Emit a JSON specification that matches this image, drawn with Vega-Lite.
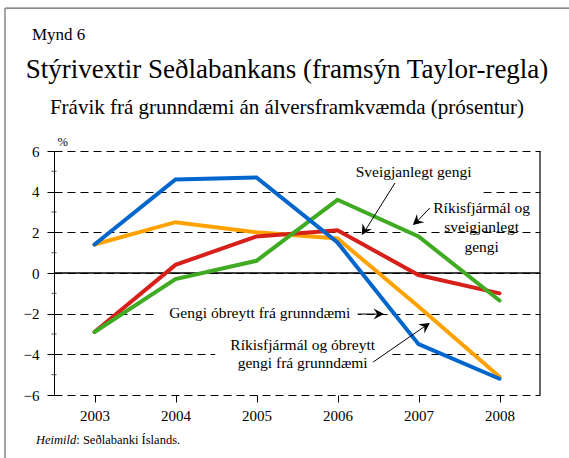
{
  "$schema": "https://vega.github.io/schema/vega-lite/v6.json",
  "width": 486,
  "height": 244,
  "autosize": "none",
  "padding": {"left": 54, "top": 151, "right": 29, "bottom": 63},
  "background": "white",
  "config": {
    "font": "Liberation Serif",
    "view": {"stroke": null},
    "text": {"font": "Liberation Serif", "fontWeight": "normal", "fill": "black"},
    "axis": {"labelFont": "Liberation Serif", "titleFont": "Liberation Serif", "labelColor": "black", "titleColor": "black", "domainColor": "black", "tickColor": "black"}
  },
  "title": {
    "text": "Stýrivextir Seðlabankans (framsýn Taylor-regla)",
    "subtitle": "Frávik frá grunndæmi án álversframkvæmda (prósentur)",
    "font": "Liberation Serif",
    "subtitleFont": "Liberation Serif",
    "fontSize": 27,
    "subtitleFontSize": 21,
    "fontWeight": "normal",
    "subtitleFontWeight": "normal",
    "color": "black",
    "subtitleColor": "black",
    "anchor": "middle",
    "frame": "group",
    "dx": -10,
    "offset": -112,
    "subtitlePadding": 13
  },
  "datasets": {
    "rates": [
      {"year": 2003, "series": "Ríkisfjármál og óbreytt gengi frá grunndæmi", "value": 1.4},
      {"year": 2004, "series": "Ríkisfjármál og óbreytt gengi frá grunndæmi", "value": 2.5},
      {"year": 2005, "series": "Ríkisfjármál og óbreytt gengi frá grunndæmi", "value": 2.0},
      {"year": 2006, "series": "Ríkisfjármál og óbreytt gengi frá grunndæmi", "value": 1.7},
      {"year": 2007, "series": "Ríkisfjármál og óbreytt gengi frá grunndæmi", "value": -1.65},
      {"year": 2008, "series": "Ríkisfjármál og óbreytt gengi frá grunndæmi", "value": -5.1},
      {"year": 2003, "series": "Sveigjanlegt gengi", "value": -2.9},
      {"year": 2004, "series": "Sveigjanlegt gengi", "value": 0.4},
      {"year": 2005, "series": "Sveigjanlegt gengi", "value": 1.8},
      {"year": 2006, "series": "Sveigjanlegt gengi", "value": 2.1},
      {"year": 2007, "series": "Sveigjanlegt gengi", "value": -0.1},
      {"year": 2008, "series": "Sveigjanlegt gengi", "value": -1.0},
      {"year": 2003, "series": "Ríkisfjármál og sveigjanlegt gengi", "value": -2.9},
      {"year": 2004, "series": "Ríkisfjármál og sveigjanlegt gengi", "value": -0.3},
      {"year": 2005, "series": "Ríkisfjármál og sveigjanlegt gengi", "value": 0.6},
      {"year": 2006, "series": "Ríkisfjármál og sveigjanlegt gengi", "value": 3.6},
      {"year": 2007, "series": "Ríkisfjármál og sveigjanlegt gengi", "value": 1.8},
      {"year": 2008, "series": "Ríkisfjármál og sveigjanlegt gengi", "value": -1.35},
      {"year": 2003, "series": "Gengi óbreytt frá grunndæmi", "value": 1.4},
      {"year": 2004, "series": "Gengi óbreytt frá grunndæmi", "value": 4.6},
      {"year": 2005, "series": "Gengi óbreytt frá grunndæmi", "value": 4.7},
      {"year": 2006, "series": "Gengi óbreytt frá grunndæmi", "value": 1.5},
      {"year": 2007, "series": "Gengi óbreytt frá grunndæmi", "value": -3.5},
      {"year": 2008, "series": "Gengi óbreytt frá grunndæmi", "value": -5.2}
    ],
    "minor": [{"v": -5}, {"v": -3}, {"v": -1}, {"v": 1}, {"v": 3}, {"v": 5}],
    "one": [{"n": 1}]
  },
  "data": {"name": "one"},
  "layer": [
    {"mark": {"type": "rect", "fill": "white", "clip": false}, "encoding": {"x": {"datum": 2005.99}, "x2": {"datum": 2007.8}, "y": {"datum": 5.6}, "y2": {"datum": 3.85}}},
    {"mark": {"type": "rect", "fill": "white", "clip": false}, "encoding": {"x": {"datum": 2003.75}, "x2": {"datum": 2006.25}, "y": {"datum": -1.55}, "y2": {"datum": -2.4}}},
    {"mark": {"type": "rect", "fill": "white", "clip": false}, "encoding": {"x": {"datum": 2004.49}, "x2": {"datum": 2006.67}, "y": {"datum": -3.2}, "y2": {"datum": -4.8}}},
    {"mark": {"type": "rule", "stroke": "black", "strokeWidth": 1.3, "clip": false}, "encoding": {"y": {"datum": 0}}},
    {"mark": {"type": "rule", "stroke": "black", "strokeWidth": 1.2, "clip": false}, "encoding": {"x": {"datum": 2008.5}, "y": {"datum": 6}, "y2": {"datum": -6}}},
    {"data": {"name": "minor"}, "mark": {"type": "tick", "orient": "horizontal", "color": "black", "size": 5, "thickness": 1, "clip": false}, "encoding": {"x": {"datum": 2002.5}, "y": {"field": "v", "type": "quantitative"}}},
    {
      "data": {"name": "rates"},
      "mark": {"type": "line", "strokeWidth": 4, "strokeCap": "round", "strokeJoin": "miter", "clip": false},
      "encoding": {
        "x": {
          "field": "year", "type": "quantitative",
          "scale": {"domain": [2002.5, 2008.5], "nice": false, "zero": false},
          "axis": {"values": [2003, 2004, 2005, 2006, 2007, 2008], "format": "d", "title": null, "grid": false, "domain": false, "tickSize": 7, "tickWidth": 1, "tickColor": "black", "labelFont": "Liberation Serif", "labelColor": "black", "labelFontSize": 15, "labelPadding": 6}
        },
        "y": {
          "field": "value", "type": "quantitative",
          "scale": {"domain": [-6, 6], "nice": false, "zero": false},
          "axis": {"values": [-6, -4, -2, 0, 2, 4, 6], "title": "%", "titleFont": "Liberation Serif", "titleColor": "black", "titleAngle": 0, "titleAlign": "left", "titleBaseline": "alphabetic", "titleX": 3, "titleY": -6, "titleFontSize": 12.5, "titleFontWeight": "normal", "grid": true, "gridColor": "black", "gridDash": [8, 5], "gridWidth": 1, "gridOpacity": 1, "tickSize": 7, "tickWidth": 1, "tickColor": "black", "domainColor": "black", "domainWidth": 1, "labelFont": "Liberation Serif", "labelColor": "black", "labelFontSize": 15, "labelPadding": 8}
        },
        "color": {"field": "series", "type": "nominal", "legend": null,
          "scale": {"domain": ["Gengi óbreytt frá grunndæmi", "Ríkisfjármál og óbreytt gengi frá grunndæmi", "Sveigjanlegt gengi", "Ríkisfjármál og sveigjanlegt gengi"],
                    "range": ["#0066CC", "#FFA200", "#D8201A", "#3FAA22"]}}
      }
    },
    {"mark": {"type": "text", "font": "Liberation Serif", "fontWeight": "normal", "fontSize": 15.5, "align": "center", "baseline": "middle", "fill": "black"}, "encoding": {"x": {"datum": 2006.94}, "y": {"datum": 4.97}, "text": {"value": "Sveigjanlegt gengi"}}},
    {"mark": {"type": "text", "font": "Liberation Serif", "fontWeight": "normal", "fontSize": 15.5, "align": "center", "baseline": "middle", "fill": "black", "lineBreak": "\n", "lineHeight": 19.5}, "encoding": {"x": {"datum": 2007.78}, "y": {"datum": 3.2}, "text": {"value": "Ríkisfjármál og\nsveigjanlegt\ngengi"}}},
    {"mark": {"type": "text", "font": "Liberation Serif", "fontWeight": "normal", "fontSize": 15.5, "align": "center", "baseline": "middle", "fill": "black"}, "encoding": {"x": {"datum": 2005.04}, "y": {"datum": -1.97}, "text": {"value": "Gengi óbreytt frá grunndæmi"}}},
    {"mark": {"type": "text", "font": "Liberation Serif", "fontWeight": "normal", "fontSize": 15.5, "align": "center", "baseline": "middle", "fill": "black", "lineBreak": "\n", "lineHeight": 18.3}, "encoding": {"x": {"datum": 2005.57}, "y": {"datum": -3.54}, "text": {"value": "Ríkisfjármál og óbreytt\ngengi frá grunndæmi"}}},
    {"mark": {"type": "rule", "stroke": "black", "strokeWidth": 1, "clip": false}, "encoding": {"x": {"datum": 2006.71}, "y": {"datum": 4.43}, "x2": {"datum": 2006.32}, "y2": {"datum": 1.95}}},
    {"mark": {"type": "rule", "stroke": "black", "strokeWidth": 1, "clip": false}, "encoding": {"x": {"datum": 2007.14}, "y": {"datum": 3.2}, "x2": {"datum": 2006.95}, "y2": {"datum": 2.4}}},
    {"mark": {"type": "rule", "stroke": "black", "strokeWidth": 1, "clip": false}, "encoding": {"x": {"datum": 2006.25}, "y": {"datum": -2.02}, "x2": {"datum": 2006.56}, "y2": {"datum": -2.02}}},
    {"mark": {"type": "rule", "stroke": "black", "strokeWidth": 1, "clip": false}, "encoding": {"x": {"datum": 2006.44}, "y": {"datum": -4.38}, "x2": {"datum": 2007.13}, "y2": {"datum": -2.48}}},
    {"mark": {"type": "point", "filled": true, "fill": "black", "strokeWidth": 0, "opacity": 1, "size": 150, "shape": "M0,0L0.9,1.7L0,1.1L-0.9,1.7Z", "angle": 211.4}, "encoding": {"x": {"datum": 2006.3}, "y": {"datum": 1.87}}},
    {"mark": {"type": "point", "filled": true, "fill": "black", "strokeWidth": 0, "opacity": 1, "size": 150, "shape": "M0,0L0.9,1.7L0,1.1L-0.9,1.7Z", "angle": 228.6}, "encoding": {"x": {"datum": 2006.93}, "y": {"datum": 2.36}}},
    {"mark": {"type": "point", "filled": true, "fill": "black", "strokeWidth": 0, "opacity": 1, "size": 150, "shape": "M0,0L0.9,1.7L0,1.1L-0.9,1.7Z", "angle": 90}, "encoding": {"x": {"datum": 2006.574}, "y": {"datum": -2.02}}},
    {"mark": {"type": "point", "filled": true, "fill": "black", "strokeWidth": 0, "opacity": 1, "size": 150, "shape": "M0,0L0.9,1.7L0,1.1L-0.9,1.7Z", "angle": 55.6}, "encoding": {"x": {"datum": 2007.14}, "y": {"datum": -2.46}}},
    {"mark": {"type": "text", "font": "Liberation Serif", "fontWeight": "normal", "fontSize": 17, "align": "left", "baseline": "alphabetic", "fill": "black"}, "encoding": {"x": {"datum": 2002.228}, "y": {"datum": 11.46}, "text": {"value": "Mynd 6"}}},
    {"mark": {"type": "text", "font": "Liberation Serif", "fontWeight": "normal", "fontSize": 12.5, "fontStyle": "italic", "align": "left", "baseline": "alphabetic", "fill": "black"}, "encoding": {"x": {"datum": 2002.278}, "y": {"datum": -8.41}, "text": {"value": "Heimild"}}},
    {"mark": {"type": "text", "font": "Liberation Serif", "fontWeight": "normal", "fontSize": 12.5, "align": "left", "baseline": "alphabetic", "fill": "black", "dx": 40.3}, "encoding": {"x": {"datum": 2002.278}, "y": {"datum": -8.41}, "text": {"value": ": Seðlabanki Íslands."}}},
    {"mark": {"type": "rule", "stroke": "#666666", "strokeWidth": 1.2, "clip": false}, "encoding": {"x": {"datum": 2001.895}, "x2": {"datum": 2008.86}, "y": {"datum": 13.03}, "y2": {"datum": 13.03}}},
    {"mark": {"type": "rule", "stroke": "#888888", "strokeWidth": 1.5, "clip": false}, "encoding": {"x": {"datum": 2001.895}, "x2": {"datum": 2001.895}, "y": {"datum": 13.03}, "y2": {"datum": -9.1}}}
  ]
}
